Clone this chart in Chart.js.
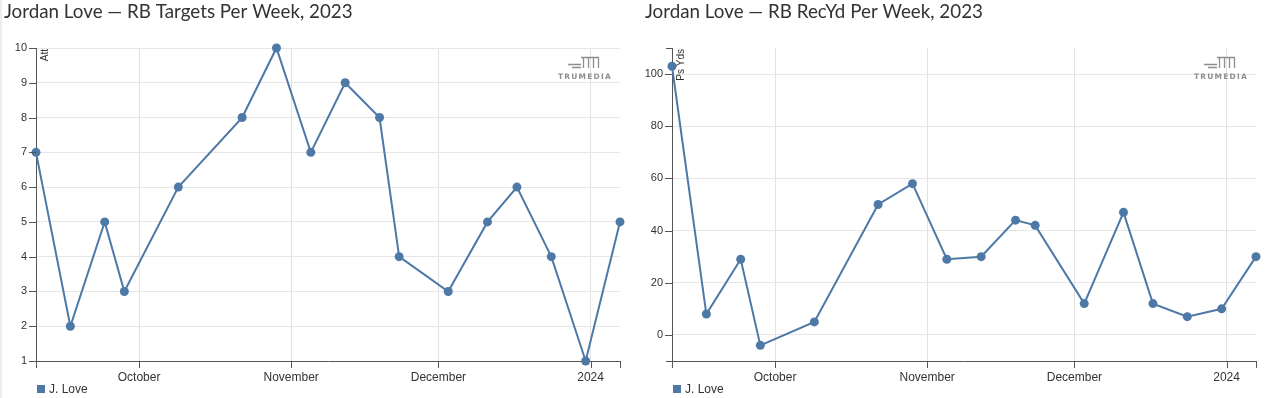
<!DOCTYPE html>
<html>
<head>
<meta charset="utf-8">
<script src="https://cdn.jsdelivr.net/npm/chart.js@4.4.1/dist/chart.umd.min.js"></script>
<style>
  html, body { margin: 0; padding: 0; background: #ffffff; width: 1267px; height: 398px; overflow: hidden; }
  #strip { position: absolute; left: 0; top: 0; width: 2px; height: 398px; background: #ededed; }
  .box { position: absolute; top: 0; height: 398px; }
  #boxL { left: 0; width: 640px; }
  #boxR { left: 636px; width: 631px; }
</style>
</head>
<body>
<div id="strip"></div>
<div class="box" id="boxL"><canvas id="cL"></canvas></div>
<div class="box" id="boxR"><canvas id="cR"></canvas></div>
<script>
// ---- data ----
const gameDates = ['2023-09-10','2023-09-17','2023-09-24','2023-09-28','2023-10-09','2023-10-22','2023-10-29',
  '2023-11-05','2023-11-12','2023-11-19','2023-11-23','2023-12-03','2023-12-11','2023-12-17','2023-12-24',
  '2023-12-31','2024-01-07'];
const rbTargets = [7, 2, 5, 3, 6, 8, 10, 7, 9, 8, 4, 3, 5, 6, 4, 1, 5];
const rbRecYds  = [103, 8, 29, -4, 5, 50, 58, 29, 30, 44, 42, 12, 47, 12, 7, 10, 30];
const monthTickDates = ['2023-10-01','2023-11-01','2023-12-01','2024-01-01'];
const monthTickLabels = ['October','November','December','2024'];
const targetsYTicks = [1,2,3,4,5,6,7,8,9,10];
const recYdsYTicks = [0,20,40,60,80,100];
const seriesName = 'J. Love';
const titleL = 'Jordan Love \u2014 RB Targets Per Week, 2023';
const titleR = 'Jordan Love \u2014 RB RecYd Per Week, 2023';

const LINE = '#4e79a7';
const toDay = s => Math.round(Date.UTC(+s.slice(0,4), +s.slice(5,7)-1, +s.slice(8,10)) / 86400000);
const monthTicks = monthTickDates.map(toDay);
const labelFor = v => { const i = monthTicks.indexOf(v); return i >= 0 ? monthTickLabels[i] : ''; };

const decor = {
  id: 'decor',
  afterDraw(chart, args, o) {
    const { ctx, chartArea: a, scales: { x, y } } = chart;
    ctx.save();
    ctx.strokeStyle = '#555';
    ctx.lineWidth = 1;
    ctx.beginPath();
    y.ticks.forEach(t => {
      const py = Math.round(y.getPixelForValue(t.value)) + 0.5;
      ctx.moveTo(a.left - 7, py); ctx.lineTo(a.left, py);
    });
    [a.top, a.bottom].forEach(v => { const py = Math.round(v) + 0.5; ctx.moveTo(a.left - 6, py); ctx.lineTo(a.left, py); });
    x.ticks.forEach(t => {
      const px = Math.round(x.getPixelForValue(t.value)) + 0.5;
      ctx.moveTo(px, a.bottom); ctx.lineTo(px, a.bottom + 7);
    });
    [a.left, a.right].forEach(v => { const px = Math.round(v) + 0.5; ctx.moveTo(px, a.bottom); ctx.lineTo(px, a.bottom + 7); });
    ctx.stroke();

    // title
    ctx.fillStyle = '#333';
    ctx.font = '18.8px Lato';
    ctx.textAlign = 'left';
    ctx.textBaseline = 'alphabetic';
    ctx.fillText(o.title, o.titleX, 18);

    // legend
    ctx.fillStyle = LINE;
    ctx.fillRect(a.left + 1, 385, 8, 8);
    ctx.fillStyle = '#333';
    ctx.font = '12px "Liberation Sans", Arial, sans-serif';
    ctx.textBaseline = 'middle';
    ctx.fillText(seriesName, a.left + 13, 390);

    // axis title (rotated)
    ctx.save();
    ctx.translate(a.left + 9, a.top + 1);
    ctx.rotate(-Math.PI / 2);
    ctx.font = '10px "Liberation Sans", Arial, sans-serif';
    ctx.textAlign = 'right';
    ctx.textBaseline = 'middle';
    ctx.fillStyle = '#333';
    ctx.fillText(o.axisTitle, 0, 0);
    ctx.restore();

    // logo
    const cx = a.right - 36, cy = a.top + 14;
    ctx.strokeStyle = '#8e8e8e';
    ctx.lineWidth = 1.3;
    ctx.beginPath();
    ctx.moveTo(cx - 16, cy + 2.5); ctx.lineTo(cx - 3, cy + 2.5);
    ctx.moveTo(cx - 12, cy + 5.5); ctx.lineTo(cx - 3, cy + 5.5);
    ctx.moveTo(cx - 3, cy - 4.5); ctx.lineTo(cx + 15, cy - 4.5);
    ctx.moveTo(cx - 0.5, cy - 4.5); ctx.lineTo(cx - 0.5, cy + 6);
    ctx.moveTo(cx + 4.5, cy - 4.5); ctx.lineTo(cx + 4.5, cy + 6);
    ctx.moveTo(cx + 9.5, cy - 4.5); ctx.lineTo(cx + 9.5, cy + 6);
    ctx.moveTo(cx + 14.5, cy - 4.5); ctx.lineTo(cx + 14.5, cy + 6);
    ctx.stroke();
    ctx.fillStyle = '#8e8e8e';
    ctx.font = 'bold 7.5px "DejaVu Sans", sans-serif';
    ctx.textAlign = 'center';
    ctx.textBaseline = 'middle';
    if ('letterSpacing' in ctx) ctx.letterSpacing = '1.2px';
    ctx.fillText('TRUMEDIA', cx + 1, cy + 15);
    ctx.restore();
  }
};

function makeChart(id, values, yMin, yMax, yTicks, padRight, title, titleX, axisTitle) {
  return new Chart(document.getElementById(id), {
    type: 'line',
    data: {
      datasets: [{
        label: seriesName,
        data: gameDates.map((d, i) => ({ x: toDay(d), y: values[i] })),
        borderColor: LINE,
        backgroundColor: LINE,
        borderWidth: 2,
        pointRadius: 4.5,
        pointHoverRadius: 4.5,
        pointBackgroundColor: LINE,
        pointBorderColor: LINE,
        pointBorderWidth: 0,
        tension: 0,
        clip: false
      }]
    },
    options: {
      responsive: true,
      maintainAspectRatio: false,
      animation: false,
      events: [],
      layout: { padding: { left: 0, right: padRight, top: 48, bottom: 0 } },
      plugins: {
        legend: { display: false },
        title: { display: false },
        tooltip: { enabled: false },
        decor: { title: title, titleX: titleX, axisTitle: axisTitle }
      },
      scales: {
        x: {
          type: 'linear',
          min: toDay(gameDates[0]),
          max: toDay(gameDates[gameDates.length - 1]),
          afterBuildTicks: s => { s.ticks = monthTicks.map(v => ({ value: v })); },
          afterFit: s => { s.height = 37; },
          ticks: {
            autoSkip: false, maxRotation: 0, padding: 9,
            color: '#333',
            font: { family: '"Liberation Sans", Arial, sans-serif', size: 12 },
            callback: v => labelFor(v)
          },
          grid: { color: '#e2e2e2', drawTicks: false, lineWidth: 1 },
          border: { display: true, color: '#555', width: 1 }
        },
        y: {
          type: 'linear',
          min: yMin,
          max: yMax,
          afterBuildTicks: s => { s.ticks = yTicks.map(v => ({ value: v })); },
          afterFit: s => { s.width = 36; },
          ticks: {
            padding: 9,
            color: '#333',
            font: { family: '"Liberation Sans", Arial, sans-serif', size: 11 },
            callback: v => String(v)
          },
          grid: { color: '#e6e6e6', drawTicks: false, lineWidth: 1 },
          border: { display: true, color: '#555', width: 1 }
        }
      }
    },
    plugins: [decor]
  });
}

function build() {
  makeChart('cL', rbTargets, 1, 10, targetsYTicks, 20, titleL, 4, 'Att');
  makeChart('cR', rbRecYds, -10, 110, recYdsYTicks, 11, titleR, 9, 'Ps Yds');
}
if (document.fonts && document.fonts.load) {
  Promise.all([document.fonts.load('18px Lato'), document.fonts.load('12px "Liberation Sans"')]).then(build, build);
} else { build(); }
</script>
</body>
</html>
